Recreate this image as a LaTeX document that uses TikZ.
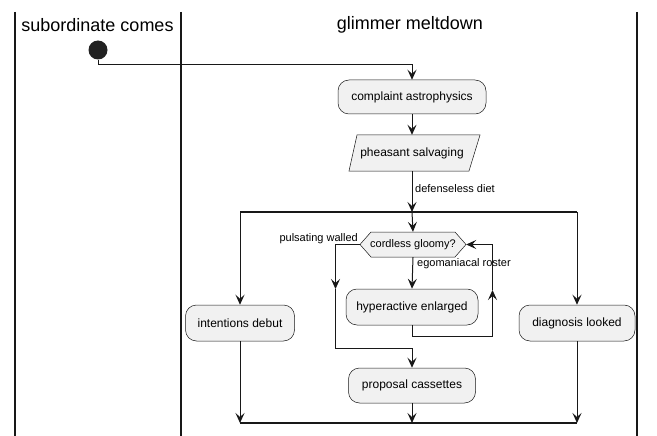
\documentclass[tikz,border=0pt]{standalone}
\usepackage{fontspec}
\setmainfont{Liberation Sans}
\usetikzlibrary{arrows.meta}
\definecolor{linec}{HTML}{181818}
\definecolor{boxfill}{HTML}{F1F1F1}
\definecolor{startc}{HTML}{222222}
\begin{document}
\begin{tikzpicture}[x=1pt,y=-1pt,
 act/.style={draw=linec, fill=boxfill, line width=0.5pt, rounded corners=11pt, inner sep=0pt, font=\fontsize{12}{14}\selectfont},
 conn/.style={draw=linec, line width=1pt},
 arr/.style={conn, -{Stealth[length=10pt,width=9pt,inset=4pt]}},
 lbl/.style={font=\fontsize{11}{13}\selectfont, inner sep=0pt},
 lane/.style={draw=linec, line width=1.5pt},
 bar/.style={draw=linec, line width=2pt},
 shapeline/.style={draw=linec, fill=boxfill, line width=0.5pt},
 lanetitle/.style={font=\fontsize{18}{21}\selectfont, inner sep=0pt}]
\useasboundingbox (0,0) rectangle (657,436);
\fill[white] (0,0) rectangle (657,436);
% swimlanes
\draw[lane] (15,12) -- (15,436);
\draw[lane] (181,12) -- (181,436);
\draw[lane] (637,12) -- (637,436);
\node[lanetitle] (t1) at (97.5,25) {subordinate comes};
\node[lanetitle] (t2) at (410,25) {glimmer meltdown};
% start
\node[circle, fill=startc, minimum size=19pt, inner sep=0pt] (start) at (98,50) {};
\coordinate (sbend) at (98,65);
% activities
\node[act, minimum width=148pt, minimum height=34pt] (comp) at (412,97) {complaint astrophysics};
\filldraw[shapeline] (357,135) -- (480,135) -- (469,171) -- (349,171) -- cycle;
\node[inner sep=0pt, minimum width=110pt, minimum height=36pt, font=\fontsize{12}{14}\selectfont] (pheas) at (412,153) {pheasant salvaging};
% fork bar
\coordinate (fL) at (240,212);
\coordinate (fC) at (412,212);
\coordinate (fR) at (577,212);
\draw[bar] (fL) -- (fR);
% hexagon
\filldraw[shapeline] (360,244.5) -- (371,232) -- (455,232) -- (466,244.5) -- (455,257) -- (371,257) -- cycle;
\node[inner sep=0pt, minimum width=106pt, minimum height=25pt, font=\fontsize{11}{13}\selectfont] (hex) at (413,244.5) {cordless gloomy?};
\node[act, minimum width=132pt, minimum height=36pt] (hyper) at (412,307) {hyperactive enlarged};
\node[act, minimum width=109pt, minimum height=36pt] (intent) at (240,323) {intentions debut};
\node[act, minimum width=116pt, minimum height=36pt] (diag) at (577,323) {diagnosis looked};
\node[act, minimum width=127pt, minimum height=35pt] (prop) at (412,385.5) {proposal cassettes};
% join bar
\coordinate (jL) at (240,423);
\coordinate (jC) at (412,423);
\coordinate (jR) at (577,423);
\draw[bar] (jL) -- (jR);
% labels
\node[lbl, anchor=west] (ldiet) at (415,189) {defenseless diet};
\node[lbl, anchor=east] (lwall) at (358,239) {pulsating walled};
\node[lbl, anchor=west] (lego) at (417,264) {egomaniacal roster};
% connectors
\draw[arr] (start.south) -- (sbend) -| (comp.north);
\draw[arr] (comp.south) -- (pheas.north);
\draw[arr] (pheas.south) -- (fC);
\draw[arr] (fL) -- (intent.north);
\draw[arr] (fC) -- (hex.north);
\draw[arr] (fR) -- (diag.north);
\draw[arr] (hex.south) -- (hyper.north);
% while exit
\coordinate (w1) at (335.5,244.5);
\coordinate (w2) at (335.5,289);
\coordinate (w3) at (335.5,348);
\coordinate (w4) at (412,348);
\draw[arr] (hex.west) -- (w1) -- (w2);
\draw[arr] (w2) -- (w3) -- (w4) -- (prop.north);
% loop back
\coordinate (b1) at (412,336);
\coordinate (b2) at (492.5,336);
\coordinate (b3) at (492.5,290);
\coordinate (b4) at (492.5,244.5);
\draw[arr] (hyper.south) -- (b1) -- (b2) -- (b3);
\draw[arr] (b3) -- (b4) -- (hex.east);
% to join
\draw[arr] (intent.south) -- (jL);
\draw[arr] (prop.south) -- (jC);
\draw[arr] (diag.south) -- (jR);
\end{tikzpicture}
\end{document}
